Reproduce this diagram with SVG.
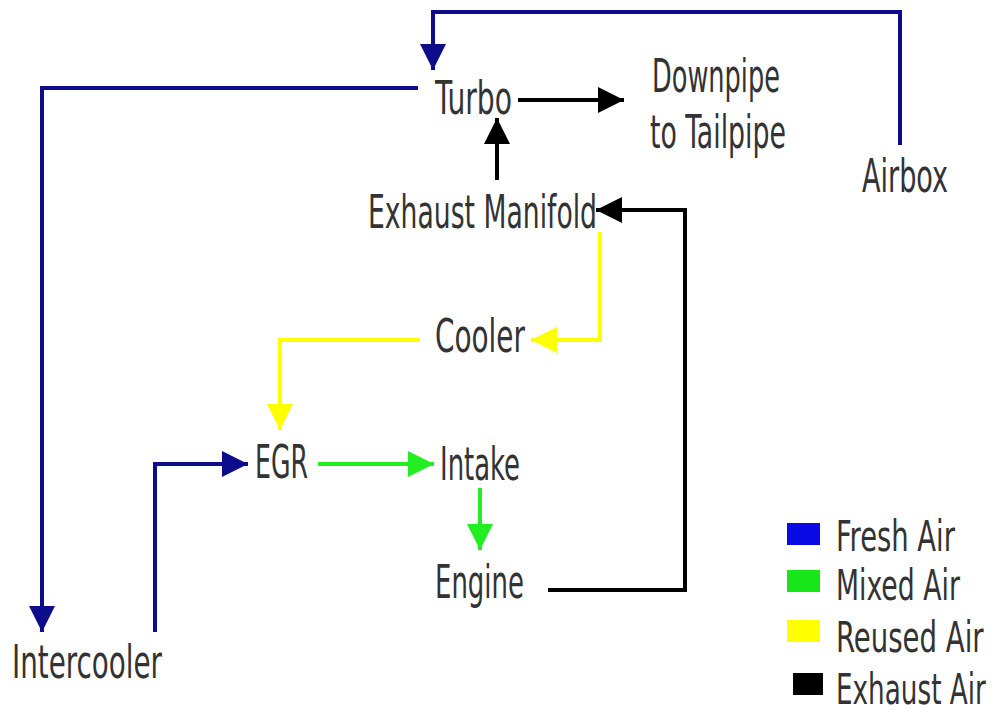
<svg xmlns="http://www.w3.org/2000/svg" width="995" height="713" viewBox="0 0 995 713">
<defs>
<style>
text{font-family:"DejaVu Sans Condensed","DejaVu Sans","Liberation Sans",sans-serif;font-stretch:condensed;font-size:46px;fill:#333;}
.leg{font-size:43px;}
.c{fill:none;stroke-width:4;stroke-linejoin:miter;}
.blue{stroke:#0d0d8c;}
.green{stroke:#22ee22;}
.yellow{stroke:#ffff00;}
.black{stroke:#000;}
</style>
<marker id="ab" markerUnits="userSpaceOnUse" markerWidth="28" markerHeight="26" refX="26" refY="13" orient="auto"><path d="M0,0 L26,13 L0,26 Z" fill="#0d0d8c"/></marker>
<marker id="ag" markerUnits="userSpaceOnUse" markerWidth="28" markerHeight="26" refX="26" refY="13" orient="auto"><path d="M0,0 L26,13 L0,26 Z" fill="#22ee22"/></marker>
<marker id="ay" markerUnits="userSpaceOnUse" markerWidth="28" markerHeight="26" refX="26" refY="13" orient="auto"><path d="M0,0 L26,13 L0,26 Z" fill="#ffff00"/></marker>
<marker id="ak" markerUnits="userSpaceOnUse" markerWidth="28" markerHeight="26" refX="26" refY="13" orient="auto"><path d="M0,0 L26,13 L0,26 Z" fill="#000"/></marker>
</defs>
<rect width="995" height="713" fill="#fff"/>
<g id="connectors">
<path class="c blue" d="M900,145 L900,12 L433,12 L433,70" marker-end="url(#ab)"/>
<path class="c blue" d="M418,88 L42,88 L42,632" marker-end="url(#ab)"/>
<path class="c blue" d="M155,632 L155,464 L248,464" marker-end="url(#ab)"/>
<path class="c black" d="M518,100 L624,100" marker-end="url(#ak)"/>
<path class="c black" d="M497,180 L497,118" marker-end="url(#ak)"/>
<path class="c black" d="M548,590 L685,590 L685,210 L596,210" marker-end="url(#ak)"/>
<path class="c yellow" d="M600,232 L600,340 L531,340" marker-end="url(#ay)"/>
<path class="c yellow" d="M420,340 L280,340 L280,430" marker-end="url(#ay)"/>
<path class="c green" d="M318,464 L434,464" marker-end="url(#ag)"/>
<path class="c green" d="M480,488 L480,550" marker-end="url(#ag)"/>
</g>
<g id="turbo"><text x="435" y="114" textLength="77" lengthAdjust="spacingAndGlyphs">Turbo</text></g>
<g id="downpipe"><text x="652" y="92" textLength="128" lengthAdjust="spacingAndGlyphs">Downpipe</text><text x="650" y="148" textLength="136" lengthAdjust="spacingAndGlyphs">to Tailpipe</text></g>
<g id="airbox"><text x="862" y="192" textLength="86" lengthAdjust="spacingAndGlyphs">Airbox</text></g>
<g id="exhaust-manifold"><text x="368" y="228" textLength="229" lengthAdjust="spacingAndGlyphs">Exhaust Manifold</text></g>
<g id="cooler"><text x="435" y="352" textLength="90" lengthAdjust="spacingAndGlyphs">Cooler</text></g>
<g id="egr"><text x="255" y="478" textLength="53" lengthAdjust="spacingAndGlyphs">EGR</text></g>
<g id="intake"><text x="440" y="480" textLength="80" lengthAdjust="spacingAndGlyphs">Intake</text></g>
<g id="engine"><text x="435" y="598" textLength="89" lengthAdjust="spacingAndGlyphs">Engine</text></g>
<g id="intercooler"><text x="12" y="678" textLength="150" lengthAdjust="spacingAndGlyphs">Intercooler</text></g>
<g id="legend">
<rect x="787" y="523" width="33" height="22" fill="#0a0ae6"/>
<rect x="787" y="570" width="33" height="22" fill="#19e619"/>
<rect x="787" y="620" width="33" height="22" fill="#ffff00"/>
<rect x="793" y="673" width="30" height="22" fill="#000"/>
<text class="leg" transform="translate(836,551) scale(0.7,1)" textLength="170" lengthAdjust="spacingAndGlyphs">Fresh Air</text>
<text class="leg" transform="translate(836,600) scale(0.7,1)" textLength="177" lengthAdjust="spacingAndGlyphs">Mixed Air</text>
<text class="leg" transform="translate(836,652) scale(0.7,1)" textLength="211" lengthAdjust="spacingAndGlyphs">Reused Air</text>
<text class="leg" transform="translate(836,704) scale(0.7,1)" textLength="214" lengthAdjust="spacingAndGlyphs">Exhaust Air</text>
</g>
</svg>
